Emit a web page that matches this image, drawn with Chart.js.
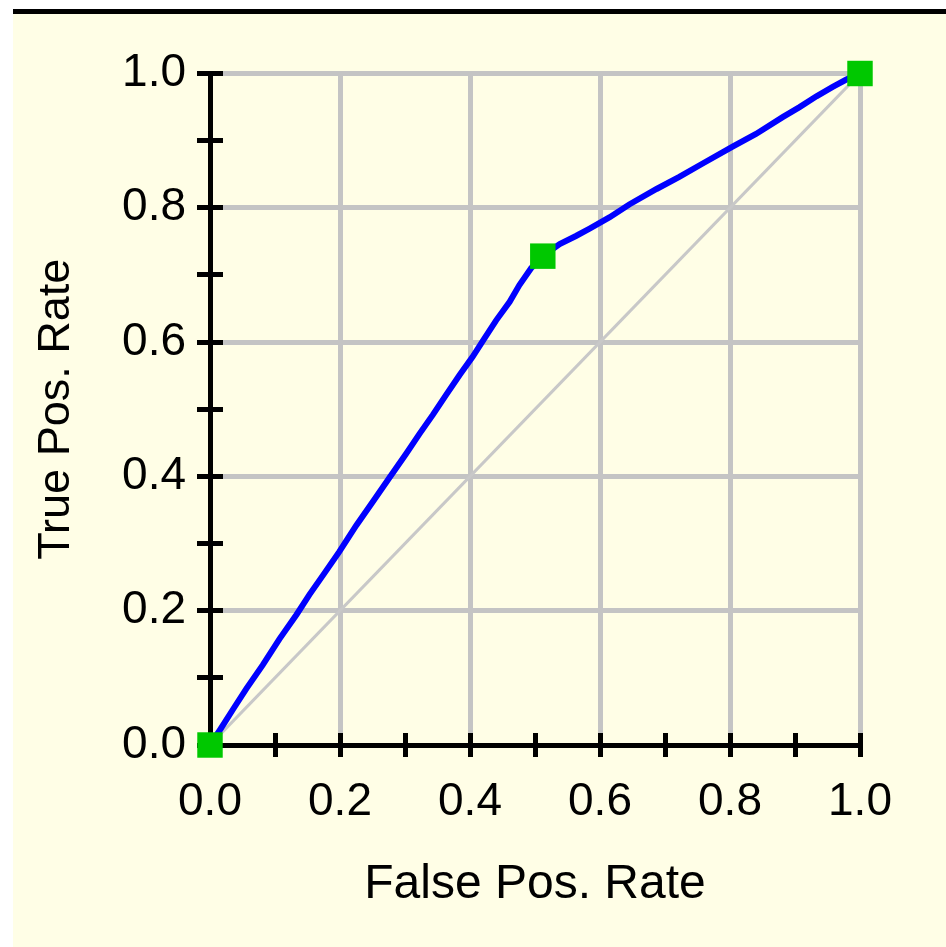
<!DOCTYPE html>
<html>
<head>
<meta charset="utf-8">
<script src="https://cdn.jsdelivr.net/npm/chart.js@4"></script>
<style>
  html, body { margin: 0; padding: 0; background: #fff; overflow: hidden; }
  #frame { position: fixed; left: 13px; top: 9px; right: 0; bottom: -20px;
           border-top: 5px solid #000; background: #fffee6; }
  #roc { position: absolute; left: 0; top: 0; }
</style>
</head>
<body>
<div id="frame"></div>
<canvas id="roc" width="946" height="947"></canvas>
<script>
// ROC curve
var fprValues = [0, 0.015, 0.036, 0.056, 0.081, 0.107, 0.133, 0.153, 0.174, 0.199, 0.225, 0.251, 0.276,
                 0.302, 0.322, 0.343, 0.363, 0.384, 0.404, 0.422, 0.440, 0.461, 0.476, 0.494, 0.512,
                 0.538, 0.563, 0.584, 0.615, 0.645, 0.687, 0.722, 0.758, 0.804, 0.840, 0.881,
                 0.907, 0.933, 0.958, 0.979, 1];
var tprValues = [0, 0.022, 0.054, 0.084, 0.119, 0.158, 0.194, 0.224, 0.253, 0.288, 0.327, 0.363, 0.398,
                 0.434, 0.463, 0.492, 0.521, 0.551, 0.578, 0.605, 0.632, 0.660, 0.685, 0.710, 0.728,
                 0.746, 0.758, 0.769, 0.786, 0.805, 0.828, 0.846, 0.866, 0.891, 0.910, 0.935,
                 0.950, 0.966, 0.980, 0.991, 1];
// threshold markers (green)
var markerFpr = [0, 0.512, 1];
var markerTpr = [0, 0.728, 1];
// chance diagonal
var chanceFpr = [0, 1];
var chanceTpr = [0, 1];
// tick labels, one per 0.1 step
var tickLabels = ['0.0', '', '0.2', '', '0.4', '', '0.6', '', '0.8', '', '1.0'];

function toPoints(xs, ys) {
    return xs.map(function(x, i){ return {x: x, y: ys[i]}; });
}

// black tick marks that cross the axis line
var crossTicks = {
    id: 'crossTicks',
    beforeDatasetsDraw: function(chart) {
        var ctx = chart.ctx, area = chart.chartArea;
        var xs = chart.scales.x, ys = chart.scales.y;
        ctx.save();
        ctx.strokeStyle = '#000';
        ctx.lineWidth = 5;
        xs.ticks.forEach(function(t){
            var px = Math.round(xs.getPixelForValue(t.value) - 2.5) + 2.5;
            ctx.beginPath();
            ctx.moveTo(px, area.bottom - 12);
            ctx.lineTo(px, area.bottom + 12);
            ctx.stroke();
        });
        ys.ticks.forEach(function(t){
            var py = Math.round(ys.getPixelForValue(t.value) - 2.5) + 2.5;
            ctx.beginPath();
            ctx.moveTo(area.left - 13, py);
            ctx.lineTo(area.left + 13, py);
            ctx.stroke();
        });
        ctx.restore();
    }
};

var font = 'Liberation Sans, Arial, sans-serif';
var gridColor = function(c){ return c.index % 2 === 0 ? '#c4c4c4' : 'rgba(0,0,0,0)'; };

var chart = new Chart(document.getElementById('roc').getContext('2d'), {
    type: 'scatter',
    data: {
        datasets: [{
            data: toPoints(markerFpr, markerTpr),
            pointStyle: 'rect',
            pointRadius: 18,
            pointBackgroundColor: '#00c800',
            pointBorderWidth: 0,
            showLine: false,
            clip: false
        }, {
            data: toPoints(fprValues, tprValues),
            showLine: true,
            borderColor: '#0000ff',
            borderWidth: 6,
            pointRadius: 0,
            tension: 0,
            clip: false
        }, {
            data: toPoints(chanceFpr, chanceTpr),
            showLine: true,
            borderColor: '#c8c8c8',
            borderWidth: 3,
            pointRadius: 0
        }]
    },
    options: {
        responsive: false,
        animation: false,
        events: [],
        layout: { padding: { left: 0, right: 86, top: 73.5, bottom: 0 } },
        plugins: { legend: { display: false }, tooltip: { enabled: false } },
        scales: {
            x: {
                type: 'linear', min: 0, max: 1,
                afterFit: function(s){ s.height = 202; },
                grid: { color: gridColor, lineWidth: 5, drawTicks: false },
                border: { color: '#000', width: 5 },
                ticks: {
                    stepSize: 0.1, autoSkip: false, maxRotation: 0, padding: 30,
                    color: '#000', font: { family: font, size: 46 },
                    callback: function(v, i){ return tickLabels[i]; }
                },
                title: {
                    display: true, text: 'False Pos. Rate', color: '#000',
                    font: { family: font, size: 48 }, padding: { top: 0, bottom: 33 }
                }
            },
            y: {
                type: 'linear', min: 0, max: 1,
                afterFit: function(s){ s.width = 210; },
                grid: { color: gridColor, lineWidth: 5, drawTicks: false },
                border: { color: '#000', width: 5 },
                ticks: {
                    stepSize: 0.1, autoSkip: false, padding: 24,
                    color: '#000', font: { family: font, size: 46 },
                    callback: function(v, i){ return tickLabels[i]; }
                },
                title: {
                    display: true, text: 'True Pos. Rate', color: '#000',
                    font: { family: font, size: 45 }, padding: { top: 30, bottom: 0 }
                }
            }
        }
    },
    plugins: [crossTicks]
});
</script>
</body>
</html>
